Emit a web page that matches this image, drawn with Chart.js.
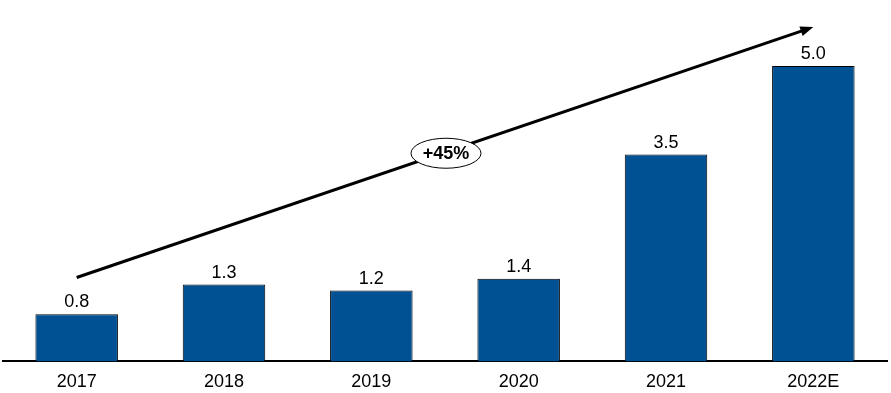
<!DOCTYPE html>
<html>
<head>
<meta charset="utf-8">
<script src="https://cdn.jsdelivr.net/npm/chart.js@4"></script>
<style>
html,body{margin:0;padding:0;background:#fff;}
#wrap{width:891px;height:393px;position:relative;}
</style>
</head>
<body>
<div id="wrap"><canvas id="c" width="891" height="393"></canvas></div>
<script>
const categories = ['2017', '2018', '2019', '2020', '2021', '2022E'];
const values = [0.8, 1.3, 1.2, 1.4, 3.5, 5.0];
const valueLabels = ['0.8', '1.3', '1.2', '1.4', '3.5', '5.0'];
const arrowFrom = { category: '2017', value: 1.42 };
const arrowTo = { category: '2022E', value: 5.66 };
const growthLabel = '+45%';

const FONT = "'Liberation Sans', Arial, sans-serif";

const labelsPlugin = {
  id: 'valueLabels',
  afterDatasetsDraw(chart) {
    const ctx = chart.ctx;
    const meta = chart.getDatasetMeta(0);
    ctx.save();
    ctx.font = '18px ' + FONT;
    ctx.fillStyle = '#000';
    ctx.textAlign = 'center';
    ctx.textBaseline = 'alphabetic';
    meta.data.forEach((bar, i) => {
      ctx.fillText(valueLabels[i], bar.x, bar.y - 7);
    });
    ctx.restore();
  }
};

const arrowPlugin = {
  id: 'growthArrow',
  afterDatasetsDraw(chart) {
    const ctx = chart.ctx;
    const xs = chart.scales.x, ys = chart.scales.y;
    const x1 = xs.getPixelForValue(categories.indexOf(arrowFrom.category));
    const y1 = ys.getPixelForValue(arrowFrom.value);
    const x2 = xs.getPixelForValue(categories.indexOf(arrowTo.category));
    const y2 = ys.getPixelForValue(arrowTo.value);
    const ang = Math.atan2(y2 - y1, x2 - x1);
    const head = 13;
    ctx.save();
    ctx.strokeStyle = '#000';
    ctx.fillStyle = '#000';
    ctx.lineWidth = 3;
    ctx.beginPath();
    ctx.moveTo(x1, y1);
    ctx.lineTo(x2 - Math.cos(ang) * head * 0.8, y2 - Math.sin(ang) * head * 0.8);
    ctx.stroke();
    ctx.beginPath();
    ctx.moveTo(x2, y2);
    ctx.lineTo(x2 - head * Math.cos(ang) + 5 * Math.sin(ang), y2 - head * Math.sin(ang) - 5 * Math.cos(ang));
    ctx.lineTo(x2 - head * Math.cos(ang) - 5 * Math.sin(ang), y2 - head * Math.sin(ang) + 5 * Math.cos(ang));
    ctx.closePath();
    ctx.fill();
    const mx = (x1 + x2) / 2 + 1, my = (y1 + y2) / 2 + 1;
    ctx.beginPath();
    ctx.ellipse(mx, my, 35, 15, 0, 0, Math.PI * 2);
    ctx.fillStyle = '#fff';
    ctx.fill();
    ctx.lineWidth = 1;
    ctx.strokeStyle = '#000';
    ctx.stroke();
    ctx.fillStyle = '#000';
    ctx.font = 'bold 18px ' + FONT;
    ctx.textAlign = 'center';
    ctx.textBaseline = 'middle';
    ctx.fillText(growthLabel, mx, my + 1);
    ctx.restore();
  }
};

new Chart(document.getElementById('c'), {
  type: 'bar',
  data: {
    labels: categories,
    datasets: [{
      data: values,
      backgroundColor: '#005193',
      borderColor: '#000',
      borderWidth: 1,
      borderSkipped: 'bottom',
      categoryPercentage: 0.56,
      barPercentage: 1.0
    }]
  },
  options: {
    responsive: false,
    animation: false,
    devicePixelRatio: 1,
    layout: { padding: { left: 3, right: 4, top: 1, bottom: -10 } },
    plugins: { legend: { display: false }, tooltip: { enabled: false } },
    scales: {
      x: {
        grid: { display: false, drawTicks: false },
        border: { display: true, color: '#000', width: 2 },
        ticks: { color: '#000', font: { family: FONT, size: 18 }, padding: 10, maxRotation: 0 }
      },
      y: {
        display: false,
        min: 0,
        max: 6.1
      }
    }
  },
  plugins: [labelsPlugin, arrowPlugin]
});
</script>
</body>
</html>
